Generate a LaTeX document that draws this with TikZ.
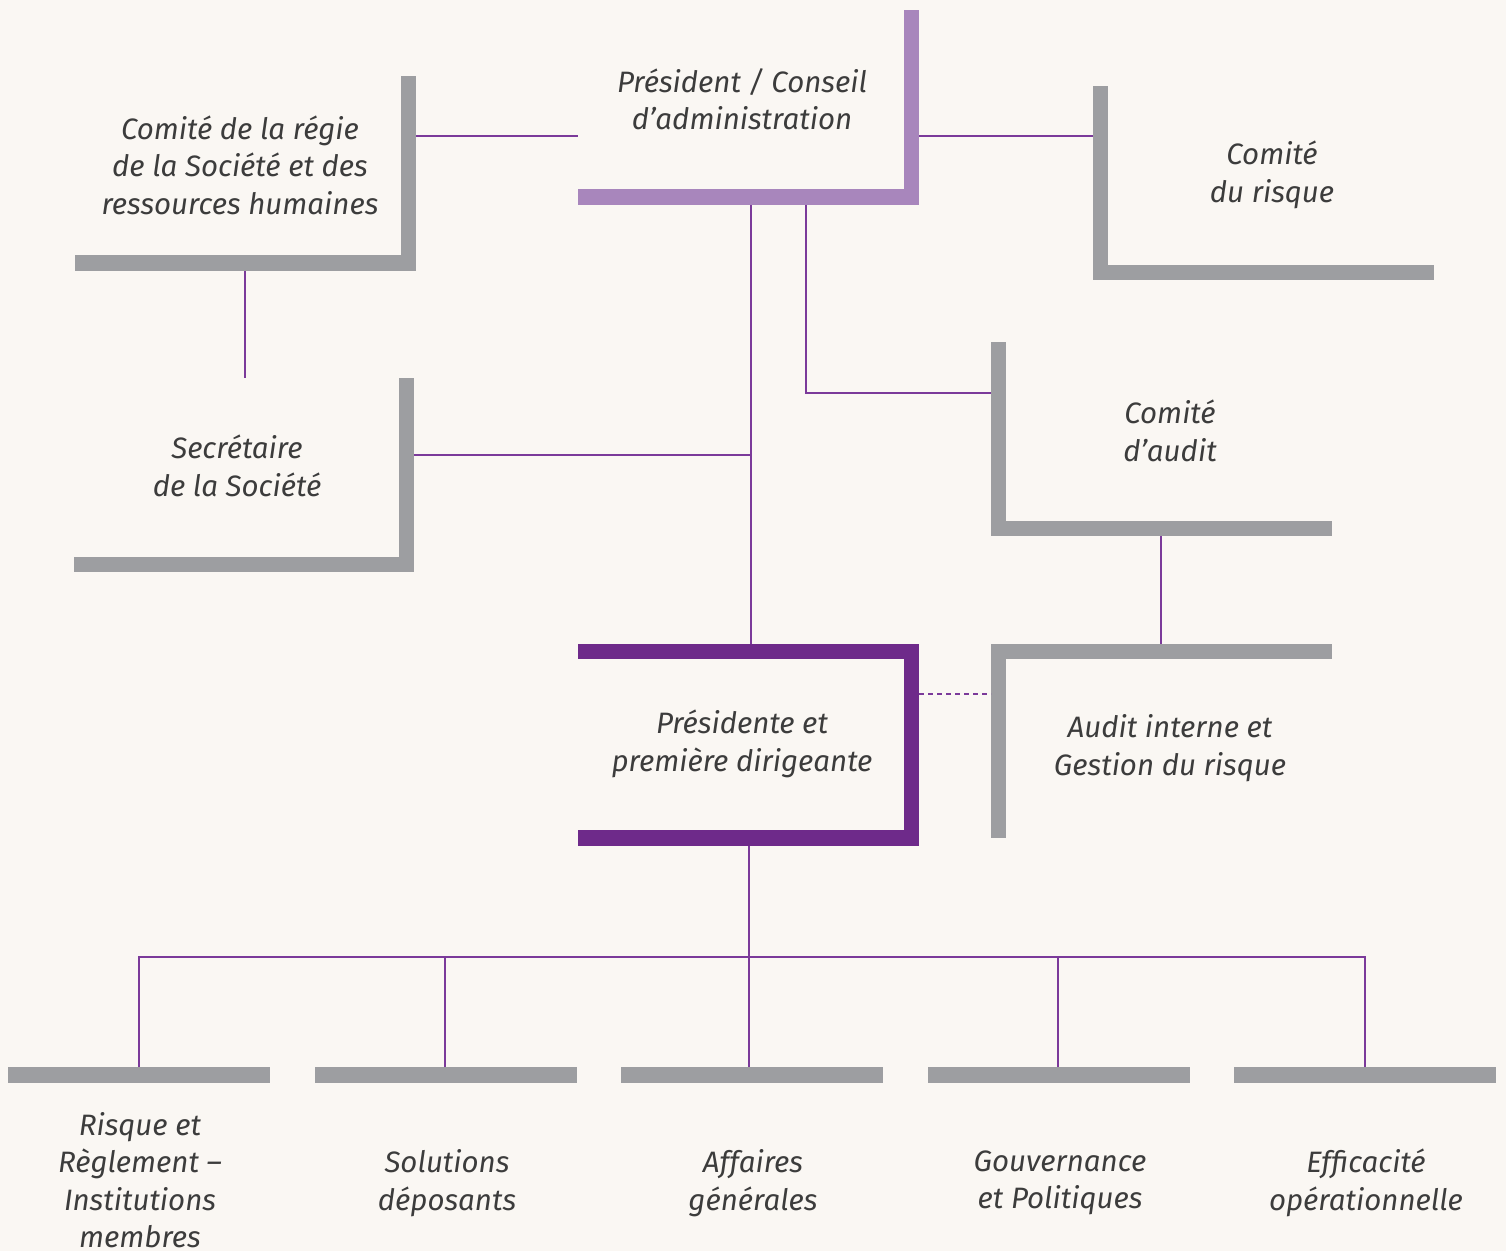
\documentclass[tikz,border=0pt]{standalone}
\usepackage{fontspec}
\setmainfont{Fira Sans}
\definecolor{bg}{HTML}{FAF7F3}
\definecolor{lpur}{HTML}{A886BC}
\definecolor{dpur}{HTML}{6E2A8A}
\definecolor{gbar}{HTML}{9D9EA1}
\definecolor{lnk}{HTML}{7B3A9A}
\definecolor{txt}{HTML}{3C3C3C}
\begin{document}
\begin{tikzpicture}[x=1pt,y=-1pt,
  lbl/.style={align=center, text=txt, font=\fontsize{29.5}{37.5}\selectfont\itshape, inner sep=0pt},
  link/.style={draw=lnk, line width=1.1pt},
  dlink/.style={link, dash pattern=on 5pt off 4pt}]
\fill[bg] (0,0) rectangle (1506,1251);
\useasboundingbox (0,0) rectangle (1506,1251);

% ---- bars ----
% President / Conseil
\fill[lpur] (578,189) rectangle (919,205);
\fill[lpur] (904,10) rectangle (919,205);
% Comite de la regie
\fill[gbar] (75,255) rectangle (416,271);
\fill[gbar] (401,76) rectangle (416,271);
% Secretaire
\fill[gbar] (74,557) rectangle (414,572);
\fill[gbar] (399,378) rectangle (414,572);
% Comite du risque
\fill[gbar] (1093,265) rectangle (1434,280);
\fill[gbar] (1093,86) rectangle (1108,280);
% Comite d'audit
\fill[gbar] (991,521) rectangle (1332,536);
\fill[gbar] (991,342) rectangle (1006,536);
% Audit interne
\fill[gbar] (991,644) rectangle (1332,659);
\fill[gbar] (991,644) rectangle (1006,838);
% Presidente
\fill[dpur] (578,644) rectangle (919,659);
\fill[dpur] (904,644) rectangle (919,846);
\fill[dpur] (578,830) rectangle (919,846);
% bottom row
\fill[gbar] (8,1067) rectangle (270,1083);
\fill[gbar] (315,1067) rectangle (577,1083);
\fill[gbar] (621,1067) rectangle (883,1083);
\fill[gbar] (928,1067) rectangle (1190,1083);
\fill[gbar] (1234,1067) rectangle (1496,1083);

% ---- labels ----
\node[lbl] (pres) at (742,99) {Président / Conseil\\d’administration};
\node[lbl] (regie) at (240,165) {Comité de la régie\\de la Société et des\\ressources humaines};
\node[lbl] (secr) at (237,466) {Secrétaire\\de la Société};
\node[lbl] (risq) at (1272,175) {Comité\\du risque};
\node[lbl] (audc) at (1170,431) {Comité\\d’audit};
\node[lbl] (audi) at (1170,748) {Audit interne et\\Gestion du risque};
\node[lbl] (pdg) at (742,744) {Présidente et\\première dirigeante};
\node[lbl] (b1) at (140,1180) {Risque et\\Règlement –\\Institutions\\membres};
\node[lbl] (b2) at (447,1183) {Solutions\\déposants};
\node[lbl] (b3) at (753,1183) {Affaires\\générales};
\node[lbl] (b4) at (1060,1183) {Gouvernance\\et Politiques};
\node[lbl] (b5) at (1366,1183) {Efficacité\\opérationnelle};

% ---- connector end points ----
\coordinate (presL) at (578,136);
\coordinate (presR) at (919,136);
\coordinate (regieR) at (416,136);
\coordinate (risqL) at (1093,136);
\coordinate (regieB) at (245,271);
\coordinate (secrT) at (245,378);
\coordinate (presB1) at (751,205);
\coordinate (presB2) at (806,205);
\coordinate (secrR) at (414,455);
\coordinate (spine) at (751,455);
\coordinate (audcL) at (991,393);
\coordinate (pdgT) at (751,644);
\coordinate (audcB) at (1161,536);
\coordinate (audiT) at (1161,644);
\coordinate (pdgR) at (919,694);
\coordinate (audiL) at (991,694);
\coordinate (pdgB) at (749,846);
\coordinate (hub) at (749,957);
\coordinate (t1) at (139,1067);
\coordinate (t2) at (445,1067);
\coordinate (t3) at (749,1067);
\coordinate (t4) at (1058,1067);
\coordinate (t5) at (1365,1067);

% ---- connectors ----
\draw[link] (regieR) -- (presL);
\draw[link] (presR) -- (risqL);
\draw[link] (regieB) -- (secrT);
\draw[link] (presB1) -- (pdgT);
\draw[link] (secrR) -- (spine);
\draw[link] (presB2) |- (audcL);
\draw[link] (audcB) -- (audiT);
\draw[dlink] (pdgR) -- (audiL);
\draw[link] (pdgB) -- (t3);
\draw[link] (t1) |- (hub) -| (t5);
\draw[link] (t2) -- (t2 |- hub);
\draw[link] (t4) -- (t4 |- hub);
\end{tikzpicture}
\end{document}
